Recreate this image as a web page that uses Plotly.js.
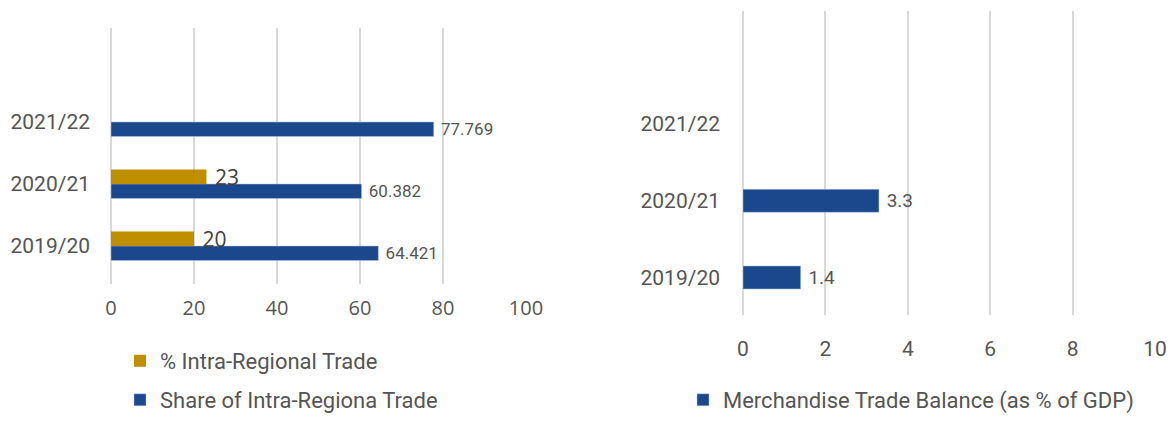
<!DOCTYPE html>
<html>
<head>
<meta charset="utf-8">
<script src="https://cdn.plot.ly/plotly-3.0.1.min.js"></script>
<style>html,body{margin:0;padding:0;background:#fff;}#chart{width:1173px;height:421px;}</style>
</head>
<body>
<div id="chart"></div>
<script>
// Data
var categories = ['2019/20', '2020/21', '2021/22'];
var intraRegionalPct = [20, 23, null];
var shareIntraRegional = [64.421, 60.382, 77.769];
var tradeBalancePctGDP = [1.4, 3.3, null];
var leftTicks = [0, 20, 40, 60, 80, 100];
var rightTicks = [0, 2, 4, 6, 8, 10];

var BLUE = '#1B478C';
var GOLD = '#BF8F00';
var GREY = '#555555';

var traces = [
  {
    type: 'bar', orientation: 'h', name: 'Share of Intra-Regiona Trade',
    y: categories, x: shareIntraRegional, xaxis: 'x', yaxis: 'y',
    offset: -0.234, width: 0.234,
    marker: {color: BLUE, line: {color: 'rgba(180,199,231,0.7)', width: 0.75}},
    text: shareIntraRegional.map(function(v){ return v == null ? '' : ' ' + v; }),
    texttemplate: '%{text}',
    textposition: 'outside', constraintext: 'none', cliponaxis: false,
    textfont: {family: 'Roboto, Arial, sans-serif', size: 17, color: GREY},
    legend: 'legend3', hoverinfo: 'x+y'
  },
  {
    type: 'bar', orientation: 'h', name: '% Intra-Regional Trade',
    y: categories, x: intraRegionalPct, xaxis: 'x', yaxis: 'y',
    offset: 0, width: 0.234,
    marker: {color: GOLD},
    text: intraRegionalPct.map(function(v){ return v == null ? '' : ' ' + v; }),
    texttemplate: '%{text}',
    textposition: 'outside', constraintext: 'none', cliponaxis: false,
    textfont: {family: '"Open Sans", Arial, sans-serif', size: 21, color: '#404040'},
    legend: 'legend', hoverinfo: 'x+y'
  },
  {
    type: 'bar', orientation: 'h', name: 'Merchandise Trade Balance (as % of GDP)',
    y: categories, x: tradeBalancePctGDP, xaxis: 'x2', yaxis: 'y2',
    offset: -0.15, width: 0.30,
    marker: {color: BLUE, line: {color: 'rgba(180,199,231,0.7)', width: 0.75}},
    text: tradeBalancePctGDP.map(function(v){ return v == null ? '' : ' ' + v; }),
    texttemplate: '%{text}',
    textposition: 'outside', constraintext: 'none', cliponaxis: false,
    textfont: {family: 'Roboto, Arial, sans-serif', size: 19, color: GREY},
    legend: 'legend2', hoverinfo: 'x+y'
  }
];

var W = 1173, H = 421;
function fx(px){ return px / W; }
function fy(px){ return 1 - px / H; }

var legendFont = {family: 'Roboto, Arial, sans-serif', size: 22, color: GREY};

var layout = {
  width: W, height: H,
  margin: {l: 0, r: 0, t: 0, b: 0, autoexpand: false},
  paper_bgcolor: '#fff', plot_bgcolor: 'rgba(0,0,0,0)',
  barmode: 'overlay',
  showlegend: true,
  font: {family: 'Roboto, Arial, sans-serif', color: GREY},
  xaxis: {
    domain: [fx(111), fx(526)], range: [0, 100], anchor: 'y',
    tickvals: leftTicks, ticktext: leftTicks.map(String),
    showgrid: true, gridcolor: '#D9D9D9', gridwidth: 2,
    zeroline: true, zerolinecolor: '#D9D9D9', zerolinewidth: 2,
    showline: false, ticks: '', ticklabelstandoff: 10,
    tickfont: {family: '"Open Sans", Arial, sans-serif', size: 20, color: GREY},
    fixedrange: true
  },
  yaxis: {
    domain: [fy(284), fy(28)], anchor: 'x',
    type: 'category', categoryorder: 'array', categoryarray: categories,
    range: [-0.613, 3.516],
    showgrid: false, zeroline: false, showline: false, ticks: '',
    ticklabelstandoff: 20,
    tickfont: {family: 'Roboto, Arial, sans-serif', size: 21, color: GREY},
    fixedrange: true
  },
  xaxis2: {
    domain: [fx(743), fx(1155)], range: [0, 10], anchor: 'y2',
    tickvals: rightTicks, ticktext: rightTicks.map(String),
    showgrid: true, gridcolor: '#D9D9D9', gridwidth: 2,
    zeroline: true, zerolinecolor: '#D9D9D9', zerolinewidth: 2,
    showline: false, ticks: '', ticklabelstandoff: 19,
    tickfont: {family: 'Roboto, Arial, sans-serif', size: 21, color: GREY},
    fixedrange: true
  },
  yaxis2: {
    domain: [fy(315), fy(11)], anchor: 'x2',
    type: 'category', categoryorder: 'array', categoryarray: categories,
    range: [-0.489, 3.475],
    showgrid: false, zeroline: false, showline: false, ticks: '',
    ticklabelstandoff: 22,
    tickfont: {family: 'Roboto, Arial, sans-serif', size: 21, color: GREY},
    fixedrange: true
  },
  legend: {
    x: fx(120), xanchor: 'left', y: fy(340), yanchor: 'top',
    orientation: 'v', font: legendFont,
    bgcolor: 'rgba(0,0,0,0)', itemclick: false, itemdoubleclick: false
  },
  legend3: {
    x: fx(120), xanchor: 'left', y: 0, yanchor: 'bottom',
    orientation: 'v', font: legendFont,
    bgcolor: 'rgba(0,0,0,0)', itemclick: false, itemdoubleclick: false
  },
  legend2: {
    x: fx(683), xanchor: 'left', y: 0, yanchor: 'bottom',
    orientation: 'v', font: legendFont,
    bgcolor: 'rgba(0,0,0,0)', itemclick: false, itemdoubleclick: false
  }
};

Plotly.newPlot('chart', traces, layout, {displayModeBar: false});
</script>
</body>
</html>
